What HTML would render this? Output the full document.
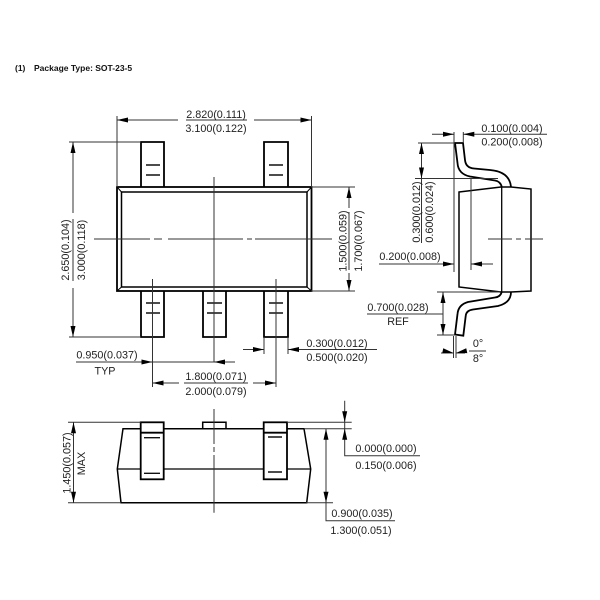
<!DOCTYPE html>
<html><head><meta charset="utf-8"><style>
html,body{margin:0;padding:0;background:#fff;width:600px;height:600px;overflow:hidden}
svg{display:block;filter:blur(.3px)}
text{font-family:"Liberation Sans",sans-serif;font-size:10.8px;fill:#222;text-anchor:middle}
.t{fill:none;stroke:#000;stroke-width:1.8;stroke-linejoin:miter}
.m{fill:none;stroke:#111;stroke-width:1.4}
.d{fill:none;stroke:#333;stroke-width:1}
.c{fill:none;stroke:#333;stroke-width:1}
</style></head><body>
<svg width="600" height="600" viewBox="0 0 600 600" xmlns="http://www.w3.org/2000/svg">
<defs><path id="a" d="M0 0L-11 -2.500L-11 2.500Z" fill="#000"/></defs>
<text x="15" y="71" style="font-size:8.5px;font-weight:bold;text-anchor:start;fill:#111">(1)</text>
<text x="34" y="71" style="font-size:8.5px;font-weight:bold;text-anchor:start;fill:#111">Package Type: SOT-23-5</text>

<!-- top view -->
<g class="t">
<path d="M141 187V142H164V187M264 187V142H288V187"/>
<path d="M141 291V337H164V291M203 291V337H226V291M264 291V337H288V291"/>
<rect x="117" y="187" width="194.500" height="104"/>
<rect x="121.500" y="192" width="185.500" height="95" style="stroke-width:1.500"/>
<path d="M117 187L121.500 192M311.500 187L307 192M117 291L121.500 287M311.500 291L307 287" style="stroke-width:1"/>
</g>
<path class="m" d="M146 165H160M146 175H160M269 165H283M269 175H283M146 303H160M146 313H160M207 303H222M207 313H222M269 303H283M269 313H283"/>
<path class="c" d="M94 239H150M154 239H162M168 239H243M247 239H252M255 239H332"/>
<path class="c" d="M214 177V362"/>
<path class="c" d="M152.500 279V387M276 279V387"/>

<!-- top view dims -->
<path class="d" d="M117 187V116M311.500 187V116M117 120H311.500"/>
<use href="#a" transform="translate(117 120) rotate(180)"/><use href="#a" transform="translate(311.500 120)"/>
<rect x="178" y="118" width="8" height="4" fill="#fff"/><rect x="247" y="118" width="7" height="4" fill="#fff"/>
<text x="216" y="118">2.820(0.111)</text><text x="216" y="132">3.100(0.122)</text>

<path class="d" d="M69 142H141M69 337H141M73 142V337"/>
<use href="#a" transform="translate(73 142) rotate(-90)"/><use href="#a" transform="translate(73 337) rotate(90)"/>
<rect x="71" y="213" width="4" height="6" fill="#fff"/><rect x="71" y="281" width="4" height="7" fill="#fff"/>
<text transform="translate(69 250) rotate(-90)">2.650(0.104)</text>
<text transform="translate(85 250) rotate(-90)">3.000(0.118)</text>

<path class="d" d="M311 187H355M311 291H355M349 187V208M349 212V270M349 273V291"/>
<use href="#a" transform="translate(349 187) rotate(-90)"/><use href="#a" transform="translate(349 291) rotate(90)"/>
<text transform="translate(346.500 241) rotate(-90)">1.500(0.059)</text>
<text transform="translate(362 241) rotate(-90)">1.700(0.067)</text>

<path class="d" d="M76 362H235"/>
<use href="#a" transform="translate(152.500 362)"/><use href="#a" transform="translate(214 362) rotate(180)"/>
<text x="107" y="358.500">0.950(0.037)</text><text x="105" y="374.500">TYP</text>

<path class="d" d="M152.500 383H179M253 383H276M184 383H248"/>
<use href="#a" transform="translate(152.500 383) rotate(180)"/><use href="#a" transform="translate(276 383)"/>
<text x="216" y="380">1.800(0.071)</text><text x="216" y="395">2.000(0.079)</text>

<path class="d" d="M264 337V354M288 337V354M243 349.500H264M288 349.500H377"/>
<use href="#a" transform="translate(264 349.500)"/><use href="#a" transform="translate(288 349.500) rotate(180)"/>
<text x="337" y="347">0.300(0.012)</text><text x="337" y="361">0.500(0.020)</text>

<!-- side view -->
<g class="t">
<path d="M459 192L501 187L511 187L531 189V291L511 292L501 292L459 287Z" style="stroke-width:1.500"/>
<path d="M501.700 187V292" style="stroke-width:1.300"/>
<path d="M501.700 187C501 183 498 181 495 180.500L470 176.500C463 175 458 171 457.500 163L455 143H463L465 160C465.500 165 468 168 474 168.500L490 170C502 171 510 176 511 187"/>
<path d="M501.700 292C501 295 499 297 495 297.500L468 302C461 304 458 308 457.500 314L455 334.500L463.300 335.700L465.700 316C466 312 469 310 473 309.500L498 306C506 304 511 300 511 292"/>
</g>
<path class="c" d="M488 239H512M516 239H521M525 239H543"/>
<path class="d" d="M454 132V272M463.300 132V143M471 178V270"/>
<path class="d" d="M432 134.300H454M463.300 134.300H547"/>
<use href="#a" transform="translate(454 134.300)"/><use href="#a" transform="translate(463.300 134.300) rotate(180)"/>
<text x="512" y="132">0.100(0.004)</text><text x="512" y="145.500">0.200(0.008)</text>

<path class="d" d="M418 143H455M415 178.500H498M421.500 143V243"/>
<use href="#a" transform="translate(421.500 143) rotate(-90)"/><use href="#a" transform="translate(421.500 178.500) rotate(90)"/>
<text transform="translate(420 212) rotate(-90)">0.300(0.012)</text>
<text transform="translate(433 212) rotate(-90)">0.600(0.024)</text>

<path class="d" d="M379 264H454M471 264H493"/>
<use href="#a" transform="translate(454 264)"/><use href="#a" transform="translate(471 264) rotate(180)"/>
<text x="410" y="260">0.200(0.008)</text>

<path class="d" d="M437 292H500M437 335H455M443 292V335M367 314H443"/>
<use href="#a" transform="translate(443 292) rotate(-90)"/><use href="#a" transform="translate(443 335) rotate(90)"/>
<text x="398" y="311">0.700(0.028)</text><text x="398" y="325">REF</text>

<path class="d" d="M453.500 336V358M456 336V358M441 353H453.500M456 353H465M469 351H486"/>
<use href="#a" transform="translate(453.500 353) rotate(12)"/><use href="#a" transform="translate(456 353) rotate(168)"/>
<text x="478" y="347">0°</text><text x="478" y="362">8°</text>

<!-- front view -->
<g class="t">
<path d="M123 428.700H304L310.700 469L306.700 502.700H121L117.300 469Z" style="stroke-width:1.500"/>
<path d="M117.300 469H310.700" style="stroke-width:1.300"/>
<rect x="140.700" y="422.300" width="23" height="57" fill="#fff"/>
<rect x="263.700" y="422.300" width="23.300" height="57" fill="#fff"/>
<path d="M140.700 432.700H163.700M263.700 432.700H287"/>
<path d="M202.700 428.700V422.300H226V428.700" style="stroke-width:1.500"/>
</g>
<path class="m" d="M144 437.700H160M144 473.300H160M268 437H282M268 472H282"/>
<path class="c" d="M214 409V444M214 447V452M214 455V512.700"/>

<path class="d" d="M68 422.300H140.700M287 422.300H351.700M304 428.700H351.700M68 502.700H121M306 502.700H333"/>
<path class="d" d="M73.500 422.300V502.700"/>
<use href="#a" transform="translate(73.500 422.300) rotate(-90)"/><use href="#a" transform="translate(73.500 502.700) rotate(90)"/>
<text transform="translate(70.500 463) rotate(-90)">1.450(0.057)</text>
<text transform="translate(85 463.500) rotate(-90)">MAX</text>

<path class="d" d="M326 428.700V520.700H395"/>
<use href="#a" transform="translate(326 428.700) rotate(-90)"/><use href="#a" transform="translate(326 502.700) rotate(90)"/>
<text x="362" y="517">0.900(0.035)</text><text x="361" y="534">1.300(0.051)</text>

<path class="d" d="M344.700 400.700V455.700H420"/>
<use href="#a" transform="translate(344.700 422.300) rotate(90)"/><use href="#a" transform="translate(344.700 428.700) rotate(-90)"/>
<text x="386" y="452">0.000(0.000)</text><text x="386" y="469">0.150(0.006)</text>
</svg>
</body></html>
